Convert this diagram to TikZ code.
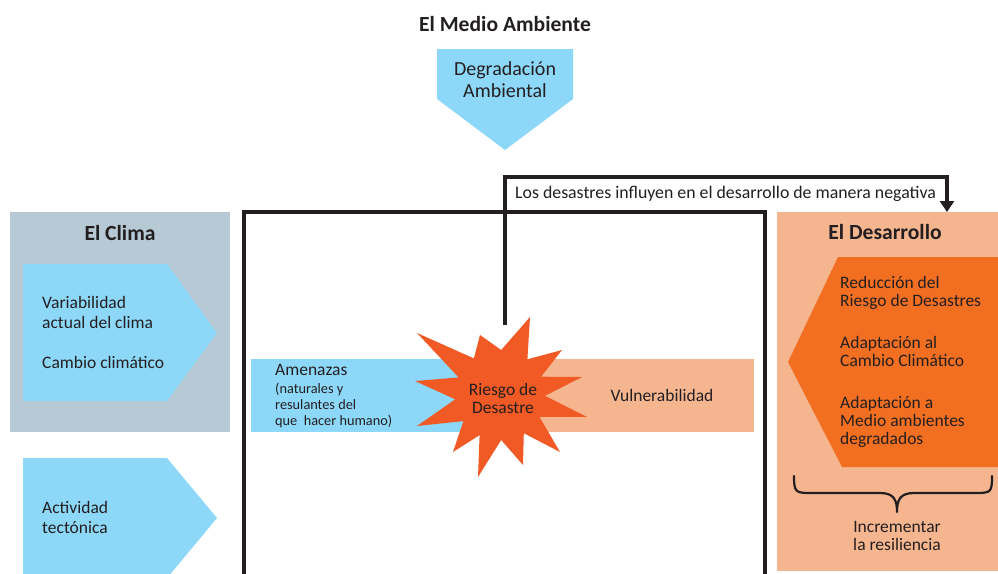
\documentclass[tikz,border=0pt]{standalone}
\usepackage{fontspec}
\setmainfont{Carlito}
\usetikzlibrary{arrows.meta,calc}
\definecolor{skyb}{HTML}{8DD8F8}
\definecolor{climag}{HTML}{B7C9D5}
\definecolor{salmon}{HTML}{F5B58F}
\definecolor{dorange}{HTML}{F26F22}
\definecolor{starc}{HTML}{F15A24}
\definecolor{txtc}{HTML}{231F20}
\begin{document}
\begin{tikzpicture}[x=1pt,y=-1pt,
  txt/.style={inner sep=0pt, text=txtc, font=\fontsize{17.5}{20}\selectfont},
  small/.style={inner sep=0pt, text=txtc, font=\fontsize{14.3}{16}\selectfont},
  head/.style={inner sep=0pt, text=txtc, font=\bfseries\fontsize{21.6}{24}\selectfont},
  frame/.style={line width=3.6pt, draw=txtc, line join=miter},
  conn/.style={line width=3.6pt, draw=txtc, line join=miter}]
\useasboundingbox (0,0) rectangle (998,573);
\clip (0,0) rectangle (998,573);
\fill[white] (0,0) rectangle (998,573);

% backgrounds
\fill[climag] (10,212) rectangle (230,432);
\node[fill=salmon, anchor=north west, inner sep=0pt, minimum width=230pt, minimum height=359pt] (desarrollo) at (777,212) {};

% pentagons
\fill[skyb] (23,264) -- (167,264) -- (217,333) -- (167,401) -- (23,401) -- cycle;
\fill[skyb] (23,458) -- (167,458) -- (217,518) -- (167,578) -- (23,578) -- cycle;
\fill[skyb] (437,49) -- (573,49) -- (573,99) -- (505,150) -- (437,99) -- cycle;
\fill[dorange] (838,257) -- (1000,257) -- (1000,467) -- (842,467) -- (788,362) -- cycle;

% bars
\fill[skyb] (251,359) rectangle (500,432);
\fill[salmon] (500,359) rectangle (754,432);

% frame
\draw[frame] (244,590) -- (244,212) -- (765,212) -- (765,590);

% star
\fill[starc] (417,333) -- (473.9,358.4) -- (480,335) -- (501.2,350) -- (530,317) -- (527.4,359.3)
  -- (562,350) -- (541.1,376.7) -- (582,377) -- (545,395.8) -- (587,417) -- (539.4,416.8)
  -- (560,452) -- (523.8,433.2) -- (523,465) -- (501.2,440) -- (478,477) -- (479.6,435.1)
  -- (453,452) -- (463.4,421.1) -- (417,426) -- (455.2,399.3) -- (415,381) -- (458.6,377.4) -- cycle;

% connector
\coordinate (startop) at (505,325);
\coordinate (arrowend) at ($(desarrollo.north west)+(170,0)$);
\draw[conn, -{Triangle[length=11pt,width=14pt]}] (startop) |- ($(arrowend)+(0,-35)$) -- (arrowend);

% texts
\node[head, anchor=base] (title) at (505,31) {El Medio Ambiente};
\node[txt, font=\fontsize{20}{22}\selectfont, anchor=base] (deg1) at (505,75) {Degradación};
\node[txt, font=\fontsize{20}{22}\selectfont, anchor=base] (deg2) at (505,97) {Ambiental};
\node[txt, font=\fontsize{17.8}{20}\selectfont, anchor=base west] (los) at (515,198) {Los desastres influyen en el desarrollo de manera negativa};

\node[head, anchor=base] (clima) at (120,240) {El Clima};
\node[txt, anchor=base west] (v1) at (42,308) {Variabilidad};
\node[txt, anchor=base west] (v2) at (42,328) {actual del clima};
\node[txt, anchor=base west] (v3) at (42,368) {Cambio climático};
\node[txt, anchor=base west] (a1) at (42,513) {Actividad};
\node[txt, anchor=base west] (a2) at (42,533) {tectónica};

\node[txt, anchor=base west] (am) at (275,375) {Amenazas};
\node[small, anchor=base west] (am1) at (275,393) {(naturales y};
\node[small, anchor=base west] (am2) at (275,409) {resulantes del};
\node[small, anchor=base west] (am3) at (275,425) {que\ \ hacer humano)};

\node[txt, anchor=base] (riesgo) at (503,395) {Riesgo de};
\node[txt, anchor=base] (riesgo2) at (503,413) {Desastre};
\node[txt, anchor=base] (vul) at (662,401) {Vulnerabilidad};

\node[head, anchor=base] (destit) at (885,239) {El Desarrollo};
\node[txt, anchor=base west] (d1) at (840,288) {Reducción del};
\node[txt, anchor=base west] (d2) at (840,306) {Riesgo de Desastres};
\node[txt, anchor=base west] (d3) at (840,348) {Adaptación al};
\node[txt, anchor=base west] (d4) at (840,366) {Cambio Climático};
\node[txt, anchor=base west] (d5) at (840,408) {Adaptación a};
\node[txt, anchor=base west] (d6) at (840,426) {Medio ambientes};
\node[txt, anchor=base west] (d7) at (840,444) {degradados};

% brace
\draw[line width=2.2pt, txtc, line cap=round, line join=round]
  (794,476) .. controls (794,493) and (796,493) .. (812,493) -- (880,493)
  .. controls (894,493) and (897,500) .. (897,512)
  .. controls (897,500) and (900,493) .. (914,493) -- (976,493)
  .. controls (991,493) and (992,492) .. (992,476);
\node[txt, anchor=base] (inc1) at (897,532) {Incrementar};
\node[txt, anchor=base] (inc2) at (897,550) {la resiliencia};
\end{tikzpicture}
\end{document}
